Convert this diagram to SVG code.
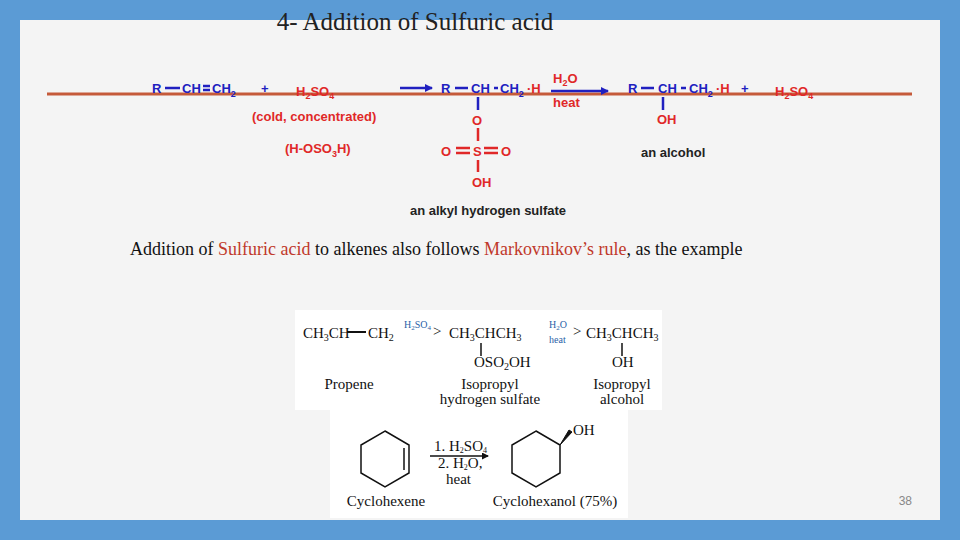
<svg xmlns="http://www.w3.org/2000/svg" width="960" height="540" viewBox="0 0 960 540">
<defs>
<style>
.b{font-family:"Liberation Sans",Arial,sans-serif;font-weight:bold;font-size:13px;fill:#2020c0}
.r{font-family:"Liberation Sans",Arial,sans-serif;font-weight:bold;font-size:13px;fill:#e02828}
.k{font-family:"Liberation Sans",Arial,sans-serif;font-weight:bold;font-size:13px;fill:#222}
.t{font-family:"Liberation Serif","Times New Roman",serif;font-size:15px;fill:#111}
.ts{font-family:"Liberation Serif","Times New Roman",serif;font-size:10px;fill:#2a5fa8}
.bl{stroke:#2020c0;stroke-width:2.5}
.rl{stroke:#e02828;stroke-width:2.5}
.kl{stroke:#111;stroke-width:1.5;fill:none}
</style>
<marker id="ab" markerWidth="8" markerHeight="8" refX="7" refY="4" orient="auto" markerUnits="userSpaceOnUse"><path d="M0,0 L8,4 L0,8 z" fill="#2020c0"/></marker>
<marker id="ak" markerWidth="7" markerHeight="7" refX="6" refY="3.5" orient="auto" markerUnits="userSpaceOnUse"><path d="M0,0 L7,3.5 L0,7 z" fill="#111"/></marker>
</defs>
<rect width="960" height="540" fill="#5b9bd5"/>
<rect x="20" y="20" width="920" height="500" fill="#f4f4f4"/>
<text x="415" y="30" text-anchor="middle" font-family="Liberation Serif,serif" font-size="25" fill="#222">4- Addition of Sulfuric acid</text>
<line x1="47" y1="94" x2="912" y2="94" stroke="#c55a3a" stroke-width="3"/>

<g id="reactant">
<text x="152" y="93" class="b">R</text><line x1="165" y1="88" x2="180" y2="88" class="bl"/>
<text x="182" y="93" class="b">CH</text><line x1="203" y1="86" x2="210" y2="86" class="bl"/><line x1="203" y1="90" x2="210" y2="90" class="bl"/>
<text x="212" y="93" class="b">CH<tspan font-size="9" dy="4">2</tspan></text>
<text x="261" y="93" class="b">+</text>
<text x="296" y="96" class="r">H<tspan font-size="9" dy="3">2</tspan><tspan dy="-3">SO</tspan><tspan font-size="9" dy="3">4</tspan></text>
<text x="252" y="121" class="r">(cold, concentrated)</text>
<text x="285" y="153" class="r">(H-OSO<tspan font-size="9" dy="4">3</tspan><tspan dy="-4">H)</tspan></text>
</g>
<g id="sulfate">
<text x="441" y="93" class="b">R</text><line x1="455" y1="88" x2="468" y2="88" class="bl"/>
<text x="471" y="93" class="b">CH</text><line x1="494" y1="88" x2="498" y2="88" class="bl"/>
<text x="500" y="93" class="b">CH<tspan font-size="9" dy="4">2</tspan></text>
<text x="527" y="93" class="r">·H</text>
<line x1="478" y1="97" x2="478" y2="110" class="bl"/>
<text x="472" y="125" class="r">O</text>
<line x1="478" y1="128" x2="478" y2="141" class="rl"/>
<text x="441" y="156" class="r">O</text><line x1="456" y1="148" x2="470" y2="148" class="rl"/><line x1="456" y1="153" x2="470" y2="153" class="rl"/>
<text x="473" y="156" class="r">S</text><line x1="484" y1="148" x2="498" y2="148" class="rl"/><line x1="484" y1="153" x2="498" y2="153" class="rl"/>
<text x="501" y="156" class="r">O</text>
<line x1="478" y1="160" x2="478" y2="172" class="rl"/>
<text x="472" y="187" class="r">OH</text>
<text x="410" y="215" class="k">an alkyl hydrogen sulfate</text>
</g>
<g id="alcohol">
<text x="628" y="93" class="b">R</text><line x1="641" y1="88" x2="654" y2="88" class="bl"/>
<text x="658" y="93" class="b">CH</text><line x1="681" y1="88" x2="686" y2="88" class="bl"/>
<text x="689" y="93" class="b">CH<tspan font-size="9" dy="4">2</tspan></text>
<text x="716" y="93" class="r">·H</text>
<text x="741" y="93" class="b">+</text>
<text x="775" y="96" class="r">H<tspan font-size="9" dy="3">2</tspan><tspan dy="-3">SO</tspan><tspan font-size="9" dy="3">4</tspan></text>
<line x1="663" y1="97" x2="663" y2="110" class="bl"/>
<text x="657" y="124" class="r">OH</text>
<text x="641" y="157" class="k">an alcohol</text>
</g>
<g id="labels">
<text x="553" y="83" class="r">H<tspan font-size="9" dy="3">2</tspan><tspan dy="-3">O</tspan></text>
<text x="553" y="107" class="r">heat</text>
</g>
<text x="130" y="255" font-family="Liberation Serif,serif" font-size="18" fill="#111">Addition of <tspan fill="#c0392b">Sulfuric acid</tspan> to alkenes also follows <tspan fill="#c0392b">Markovnikov’s rule</tspan>, as the example</text>

<g id="example1">
<rect x="295" y="310" width="367" height="100" fill="#fff"/>
<text x="303" y="338" class="t">CH<tspan font-size="10" dy="3">3</tspan><tspan dy="-3">CH</tspan></text>
<line x1="347" y1="332" x2="366" y2="332" stroke="#111" stroke-width="2"/>
<text x="368" y="338" class="t">CH<tspan font-size="10" dy="3">2</tspan></text>
<text x="404" y="328" class="ts">H<tspan font-size="7" dy="2">2</tspan><tspan dy="-2">SO</tspan><tspan font-size="7" dy="2">4</tspan></text>
<text x="433" y="336" class="t" font-size="11">&gt;</text>
<text x="449" y="338" class="t">CH<tspan font-size="10" dy="3">3</tspan><tspan dy="-3">CHCH</tspan><tspan font-size="10" dy="3">3</tspan></text>
<line x1="481" y1="343" x2="481" y2="356" class="kl" stroke-width="1"/>
<text x="474" y="367" class="t">OSO<tspan font-size="10" dy="3">2</tspan><tspan dy="-3">OH</tspan></text>
<text x="549" y="328" class="ts">H<tspan font-size="7" dy="2">2</tspan><tspan dy="-2">O</tspan></text>
<text x="549" y="343" class="ts">heat</text>
<text x="573" y="336" class="t" font-size="11">&gt;</text>
<text x="586" y="338" class="t">CH<tspan font-size="10" dy="3">3</tspan><tspan dy="-3">CHCH</tspan><tspan font-size="10" dy="3">3</tspan></text>
<line x1="622" y1="343" x2="622" y2="356" class="kl" stroke-width="1"/>
<text x="612" y="367" class="t">OH</text>
<text x="349" y="389" class="t" font-size="14" text-anchor="middle">Propene</text>
<text x="490" y="389" class="t" font-size="14" text-anchor="middle">Isopropyl</text>
<text x="490" y="404" class="t" font-size="14" text-anchor="middle">hydrogen sulfate</text>
<text x="622" y="389" class="t" font-size="14" text-anchor="middle">Isopropyl</text>
<text x="622" y="404" class="t" font-size="14" text-anchor="middle">alcohol</text>
</g>
<g id="example2">
<rect x="330" y="410" width="298" height="108" fill="#fff"/>
<polygon points="385,431 409,445 409,473 385,487 361,473 361,445" class="kl"/>
<line x1="404" y1="448" x2="404" y2="470" class="kl"/>
<text x="434" y="451" class="t" font-size="11" fill="#2a5fa8">1. H<tspan font-size="8" dy="2">2</tspan><tspan dy="-2">SO</tspan><tspan font-size="8" dy="2">4</tspan></text>
<text x="438" y="468" class="t" font-size="11" fill="#2a5fa8">2. H<tspan font-size="8" dy="2">2</tspan><tspan dy="-2">O,</tspan></text>
<text x="446" y="484" class="t" font-size="10" fill="#2a5fa8">heat</text>
<polygon points="536,431 560,445 560,473 536,487 512,473 512,445" class="kl"/>
<polygon points="560,445 572,432 569,430" fill="#111" stroke="#111" stroke-width="1"/>
<text x="573" y="435" class="t" font-size="16">OH</text>
<text x="386" y="506" class="t" font-size="14" text-anchor="middle">Cyclohexene</text>
<text x="555" y="506" class="t" font-size="14" text-anchor="middle">Cyclohexanol (75%)</text>
</g>
<g id="connectors">
<line x1="400" y1="88" x2="432" y2="88" class="bl" marker-end="url(#ab)"/>
<line x1="551" y1="91" x2="608" y2="91" class="bl" marker-end="url(#ab)"/>
<line x1="430" y1="456" x2="488" y2="456" stroke="#111" stroke-width="1.5" marker-end="url(#ak)"/>
</g>
<text x="912" y="505" text-anchor="end" font-family="Liberation Sans,sans-serif" font-size="12" fill="#888">38</text>
</svg>
